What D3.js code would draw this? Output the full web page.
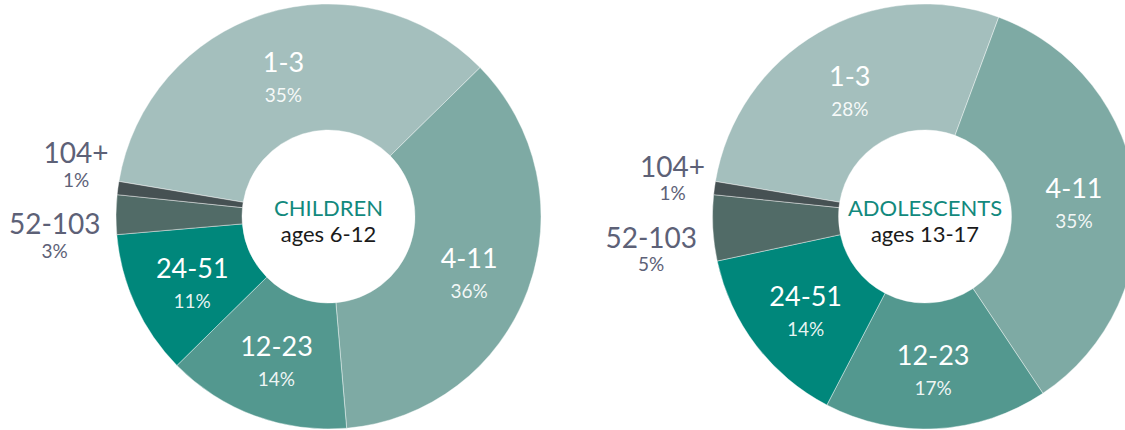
<!DOCTYPE html>
<html>
<head>
<meta charset="utf-8">
<script src="https://cdn.jsdelivr.net/npm/d3@7"></script>
<style>
  html, body { margin: 0; padding: 0; background: #fff; }
  svg { display: block; }
  text { font-family: Lato, "Noto Sans", sans-serif; }
</style>
</head>
<body>
<svg id="chart" width="1125" height="430"></svg>
<script>
// Visit-count bands and the share of each age group falling in each band (%)
const bands = ["1-3", "4-11", "12-23", "24-51", "52-103", "104+"];
const childrenShare = [35, 36, 14, 11, 3, 1];
const adolescentShare = [28, 35, 17, 14, 5, 1];
const groupTitles = ["CHILDREN", "ADOLESCENTS"];
const groupAges = ["ages 6-12", "ages 13-17"];
// Thin bands get their labels outside the ring
const outsideBands = ["52-103", "104+"];

const bandColors = ["#a4bfbd", "#7eaaa4", "#53988f", "#00877b", "#516b67", "#465153"];

const W = 1125, H = 430;
const outerR = 212.5, innerR = 86.5, labelR = 150;
const startDeg = -80.5;

const svg = d3.select("#chart");
const color = d3.scaleOrdinal().domain(bands).range(bandColors);
const centerX = d3.scalePoint().domain(groupTitles).range([328.5, 925]);
const centerY = 216.5;

const pie = d3.pie()
  .sort(null)
  .value(d => d.value)
  .startAngle(startDeg * Math.PI / 180)
  .endAngle(startDeg * Math.PI / 180 + 2 * Math.PI);

const arc = d3.arc().innerRadius(innerR).outerRadius(outerR);
const labelArc = d3.arc().innerRadius(labelR).outerRadius(labelR);
const rimArc = d3.arc().innerRadius(outerR).outerRadius(outerR);

const panels = [
  { title: groupTitles[0], ages: groupAges[0], shares: childrenShare },
  { title: groupTitles[1], ages: groupAges[1], shares: adolescentShare }
];

panels.forEach(p => {
  const data = bands.map((b, i) => ({ band: b, value: p.shares[i] }));
  const arcs = pie(data);
  const g = svg.append("g")
    .attr("transform", `translate(${centerX(p.title)},${centerY})`);

  g.selectAll("path.slice")
    .data(arcs)
    .join("path")
    .attr("class", "slice")
    .attr("d", arc)
    .attr("fill", d => color(d.data.band))
    .attr("stroke", "#ffffff")
    .attr("stroke-opacity", 0.6)
    .attr("stroke-width", 0.7);

  // labels inside the wide slices
  const inside = g.selectAll("g.inlabel")
    .data(arcs.filter(d => !outsideBands.includes(d.data.band)))
    .join("g")
    .attr("class", "inlabel")
    .attr("transform", d => `translate(${labelArc.centroid(d)})`);

  inside.append("text")
    .attr("text-anchor", "middle")
    .attr("y", -1)
    .attr("fill", "#ffffff")
    .attr("font-size", 27)
    .text(d => d.data.band);

  inside.append("text")
    .attr("text-anchor", "middle")
    .attr("y", 29)
    .attr("fill", "#ffffff")
    .attr("fill-opacity", 0.92)
    .attr("font-size", 19)
    .text(d => d.data.value + "%");

  // labels for the thin slices, stacked to the left of the ring
  const thin = arcs.filter(d => outsideBands.includes(d.data.band));
  const pairMid = (d3.min(thin, d => d.startAngle) + d3.max(thin, d => d.endAngle)) / 2;
  const pairY = rimArc.centroid({ startAngle: pairMid, endAngle: pairMid })[1] - 8;
  const gaps = { "104+": 7.5, "52-103": 15.5 };
  const shifts = { "104+": -35, "52-103": 36 };

  thin.forEach(d => {
    const lg = g.append("g").attr("class", "outlabel");
    const big = lg.append("text")
      .attr("text-anchor", "middle")
      .attr("y", -1.5)
      .attr("fill", "#5d6177")
      .attr("font-size", 28)
      .text(d.data.band);
    const w = big.node().getComputedTextLength();
    lg.append("text")
      .attr("text-anchor", "middle")
      .attr("y", 22)
      .attr("fill", "#5d6177")
      .attr("font-size", 19)
      .text(d.data.value + "%");
    lg.attr("transform",
      `translate(${-outerR - gaps[d.data.band] - w / 2},${pairY + shifts[d.data.band]})`);
  });

  // centre caption
  g.append("text")
    .attr("text-anchor", "middle")
    .attr("y", -1)
    .attr("fill", "#12897d")
    .attr("font-size", 22)
    .text(p.title);
  g.append("text")
    .attr("text-anchor", "middle")
    .attr("y", 25)
    .attr("fill", "#1a1a1a")
    .attr("font-size", 22)
    .text(p.ages);
});
</script>
</body>
</html>
